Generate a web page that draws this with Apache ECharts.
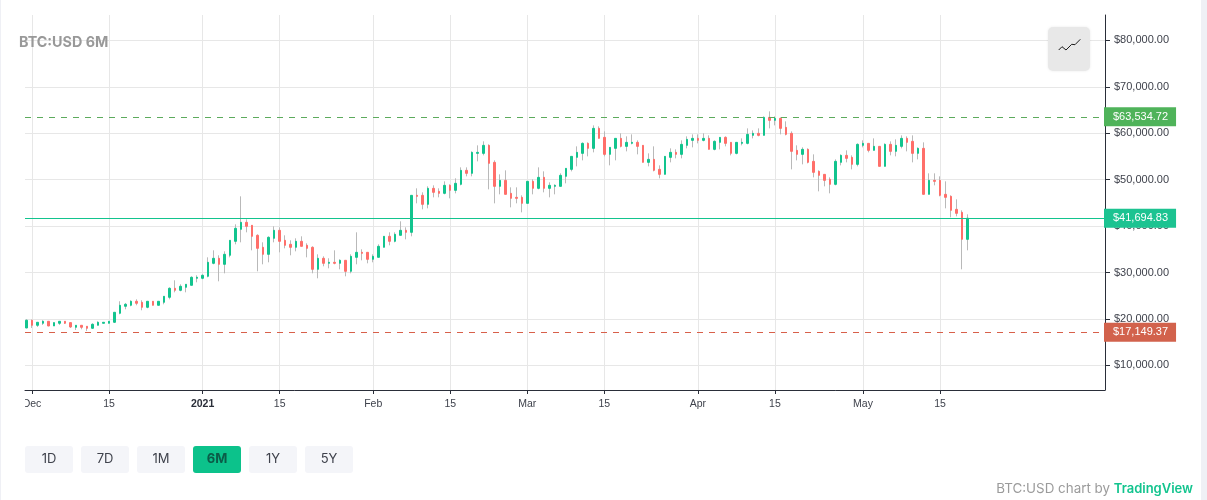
<!DOCTYPE html>
<html><head><meta charset="utf-8">
<style>html,body{margin:0;padding:0;background:#fff}#c{width:1207px;height:500px}</style>
<script src="https://cdn.jsdelivr.net/npm/echarts@6/dist/echarts.min.js"></script>
</head><body><div id="c"></div>
<script>
const startDate = '2020-11-30';
const opens = [18064,
19715,18638,19069,19500,18494,19069,19500,19212,18207,18638,18423,17992,18638,19069,19069,19284,21222,22729,22944,23806,23590,22514,23806,22944,23590,24667,26604,26174,26820,27250,28758,
28758,29188,31987,33064,31772,33710,36724,39308,40815,40169,38016,35433,33925,37370,39092,36939,36078,35433,36724,35863,35433,30695,33064,31987,32203,31987,32633,30265,33279,34356,34356,
32849,33279,35433,37801,36724,38016,39092,38662,46628,46628,44690,48135,47489,47058,48781,47704,48996,52010,51365,55671,55671,57393,53733,48566,49857,47058,46197,46197,
44905,49642,48135,50503,48135,48566,48566,50719,52226,54810,55671,57824,56747,61053,59116,55455,56747,58900,57178,57824,58039,57393,53733,54379,52225,51149,54810,55886,55455,57393,58470,
58900,58470,58900,56532,58039,59116,58039,55670,57824,57824,59546,59977,59546,63422,62776,63206,61269,59977,56317,55455,56532,53948,51795,51149,50073,48996,53733,55240,54810,53302,
57393,57824,56317,57178,52872,57608,56101,57178,58900,58254,55671,56747,46843,49857,49857,46843,46412,43613,42967,37154];
const closes = [19715,
18638,19284,19500,18494,19212,19500,19069,18279,18638,18207,17992,18853,19284,19284,19500,21437,22944,23160,23806,23375,22514,23806,22944,23806,24882,26604,26174,27035,27466,28973,28973,
29404,32203,33064,31772,33925,36939,39523,40815,39954,37801,35217,33925,37585,39092,36724,35863,35433,36724,35648,35217,30695,33064,31987,32203,31987,32633,30265,33494,34356,34140,32849,
33494,35648,37801,36724,38231,39092,38662,46628,46413,44690,48135,47274,47058,48781,47704,49212,52010,51365,55886,55886,57393,53518,48566,49857,46843,45982,45982,44905,
49642,48135,50503,48135,48781,48781,50934,52441,55025,55886,57824,56747,61053,58900,55455,56962,58900,57178,58039,58039,57178,53733,54379,52010,51149,55025,55886,55455,57608,58685,58900,
58470,58900,56532,58254,59116,57824,55670,58039,58039,59761,59977,59546,63422,62776,63206,61053,59762,56101,55455,56532,53733,51580,50934,49857,48996,53948,55240,54594,53302,57608,
57824,56317,57178,52872,57608,56101,57393,58900,58039,55671,56747,46843,49857,49642,46628,46197,43398,42752,37154,41694];
const lows = [17992,
18064,18279,18710,18423,18494,18710,18925,18064,17634,17777,17418,17849,18638,19069,19069,19140,21006,22083,22729,22944,21868,22298,22944,22944,23160,24236,25743,25959,25743,27250,27896,
28542,28973,31772,28112,29834,33279,36078,36509,38662,34786,30265,31772,32203,36509,34356,35217,33710,34571,35648,33279,29834,28758,31341,30911,31772,30695,29188,29834,31772,32633,31987,
32203,33279,35433,35863,36509,38016,37155,37801,44905,43613,43829,46197,46197,46843,45982,47058,48781,50719,50719,53948,55240,47920,44905,46843,46843,44043,44905,42967,
44905,46843,47920,47274,46197,46843,48566,49212,51795,52872,54163,55025,55886,58900,55025,53087,54163,56962,56101,57608,55455,53733,52871,51795,50288,51149,53733,54594,54594,56747,56962,
57824,58254,56532,56317,56532,57178,55240,55455,57393,57608,58900,59331,59546,61053,61699,59761,59546,52226,54163,53302,53518,50503,47489,48566,47058,48781,53087,53733,52226,52872,
56962,55886,56317,52872,52872,55240,55025,56747,56101,53733,54379,46843,46843,48781,46412,43829,41891,42106,30695,34786];
const highs = [19930,
19858,19284,19715,19500,19212,19500,19500,19212,18638,18638,18423,19069,19500,19284,19500,21437,23806,23446,24021,24236,24021,23806,23806,23806,24882,26820,28327,27466,27466,29188,29404,
29619,33279,34786,33710,34571,36939,40384,46413,41461,40169,38231,36509,37801,39954,39739,38016,36939,37370,37801,36293,35648,33925,33494,33064,34786,32849,32633,33925,38662,35002,34356,
33925,36078,37801,38662,38662,41030,39739,46628,48135,47274,48566,48781,48135,49642,48996,50288,52656,52656,56101,57393,58254,57608,54163,51149,52010,48350,48350,46628,
49642,50073,52656,51795,49427,48996,51365,52441,55025,57178,58039,58039,61699,61484,60407,56962,58900,59977,59331,59761,58470,57393,55670,57178,53087,55025,56747,56532,58470,59331,59761,
59761,59977,59546,58470,59116,59331,58039,58039,58900,61053,60623,61053,63637,64714,63637,63422,62561,60407,57393,56962,56747,55455,52010,51149,50503,54379,55455,56317,55240,57824,
58470,57824,58900,57178,57824,58254,58685,59546,59331,59546,56962,58039,51365,51365,50719,49642,46628,45766,43398,42537];
const priceTicks = [10000,20000,30000,40000,50000,60000,70000,80000];
const dateTicks = ['2020-12-01','2020-12-15','2021-01-01','2021-01-15','2021-02-01','2021-02-15','2021-03-01','2021-03-15','2021-04-01','2021-04-15','2021-05-01','2021-05-15'];
const dateLabels = ['Dec','15','{b|2021}','15','Feb','15','Mar','15','Apr','15','May','15'];
const highLine = 63534.72, lastLine = 41694.83, lowLine = 17149.37;
const rangeButtons = ['1D','7D','1M','6M','1Y','5Y'];
const activeRange = '6M';
const titleText = 'BTC:USD 6M';

const UP='#12c48e', DOWN='#ff6f6a', WICK='#b9b9b9', GRID='#e7e7e7', AXIS='#2a2e39', TXT='#3f424c';
const dayIdx = d => Math.round((Date.parse(d)-Date.parse(startDate))/864e5);
const tickIdx = dateTicks.map(dayIdx);
const money = v => '$'+v.toLocaleString('en-US',{minimumFractionDigits:2,maximumFractionDigits:2});
const wicks = opens.map((o,i)=>[i,o,closes[i],lows[i],highs[i]]);
const bodies = opens.map((o,i)=>[i,o,closes[i],Math.min(o,closes[i]),Math.max(o,closes[i])]);

function tag(v,color,lineColor,dash){
  return {yAxis:v,lineStyle:{color:lineColor,type:dash?[6,6]:'solid',width:1},
    label:{show:true,position:'end',distance:-1,formatter:money(v),color:'#fff',backgroundColor:color,
      fontFamily:'Liberation Sans',fontSize:11,padding:[5,8,3,9],lineHeight:11}};
}
const graphic=[
  {type:'rect',shape:{x:0,y:0,width:1,height:500},style:{fill:'#eff0f5'},silent:true,z:100},
  {type:'rect',shape:{x:1201,y:0,width:6,height:500},style:{fill:'#eff0f5'},silent:true,z:100},
  {type:'rect',shape:{x:1,y:392,width:24,height:24},style:{fill:'#fff'},silent:true,z:100},
  {type:'text',x:19,y:43,style:{text:titleText,fill:'#999999',font:'bold 14.3px Inter',textVerticalAlign:'middle'},z:100},
  {type:'rect',shape:{x:1048,y:27,width:42,height:44,r:5},style:{fill:'#e8e8e8',shadowBlur:3,shadowColor:'rgba(0,0,0,0.08)'},z:100},
  {type:'polyline',shape:{points:[[1058.7,50],[1062,46.7],[1066,50],[1071.7,44.3],[1075,44.7],[1080.3,39.3]]},style:{stroke:'#1c1c1c',lineWidth:1,fill:null},z:101},
  {type:'text',x:1193,y:489,style:{text:'{a|BTC:USD chart by }{b|TradingView}',align:'right',verticalAlign:'middle',
     rich:{a:{fill:'#9b9b9b',font:'13.4px Inter'},b:{fill:'#12c48e',font:'600 13px Inter'}}},z:100}
];
rangeButtons.forEach((t,i)=>{
  const x=25+i*56, on=t===activeRange;
  graphic.push({type:'rect',shape:{x,y:446,width:48,height:27,r:3},style:{fill:on?'#0cc28b':'#f4f5f9'},z:100});
  graphic.push({type:'text',x:x+24,y:459.5,style:{text:t,align:'center',verticalAlign:'middle',fill:on?'#0b5c48':TXT,font:(on?'bold ':'')+'13px Inter'},z:101});
});

const chart=echarts.init(document.getElementById('c'),null,{renderer:'canvas'});
chart.setOption({
  animation:false,backgroundColor:'#fff',graphic,
  grid:{left:25,right:102,top:15,bottom:110,containLabel:false},
  xAxis:{type:'value',min:-0.27,max:195.98,
    axisLine:{onZero:false,show:true,lineStyle:{color:AXIS,width:1}},
    axisTick:{show:true,length:4,customValues:tickIdx,lineStyle:{color:AXIS}},
    axisLabel:{customValues:tickIdx,margin:9,color:TXT,fontFamily:'Liberation Sans',fontSize:10.5,hideOverlap:false,showMinLabel:true,showMaxLabel:true,
      formatter:v=>dateLabels[tickIdx.indexOf(v)]||'',rich:{b:{fontWeight:'bold',fontFamily:'Liberation Sans',fontSize:10.5,color:'#2a2e39'}}},
    splitLine:{show:true,lineStyle:{color:GRID,width:1}}},
  yAxis:{type:'value',position:'right',min:4700,max:85470,
    axisLine:{onZero:false,show:true,lineStyle:{color:AXIS,width:1}},
    axisTick:{show:true,length:5,customValues:priceTicks,lineStyle:{color:AXIS}},
    axisLabel:{customValues:priceTicks,margin:9,padding:[4,0,0,0],color:TXT,fontFamily:'Liberation Sans',fontSize:11,hideOverlap:false,formatter:v=>money(v)},
    splitLine:{show:true,lineStyle:{color:GRID,width:1}}},
  series:[
    {type:'candlestick',data:wicks,encode:{x:0,y:[1,2,3,4]},barWidth:1,silent:true,z:2,
     itemStyle:{color:WICK,color0:WICK,borderColor:WICK,borderColor0:WICK,borderWidth:1}},
    {type:'candlestick',data:bodies,encode:{x:0,y:[1,2,3,4]},barWidth:2,silent:true,z:3,
     itemStyle:{color:UP,color0:DOWN,borderColor:UP,borderColor0:DOWN,borderWidth:1},
     markLine:{silent:true,symbol:'none',animation:false,z:5,data:[tag(highLine,'#4fb35a','#5cab5c',true),tag(lastLine,'#1cc391','#12c48e',false),tag(lowLine,'#d2624c','#d8604a',true)]}}
  ]
});
</script></body></html>
